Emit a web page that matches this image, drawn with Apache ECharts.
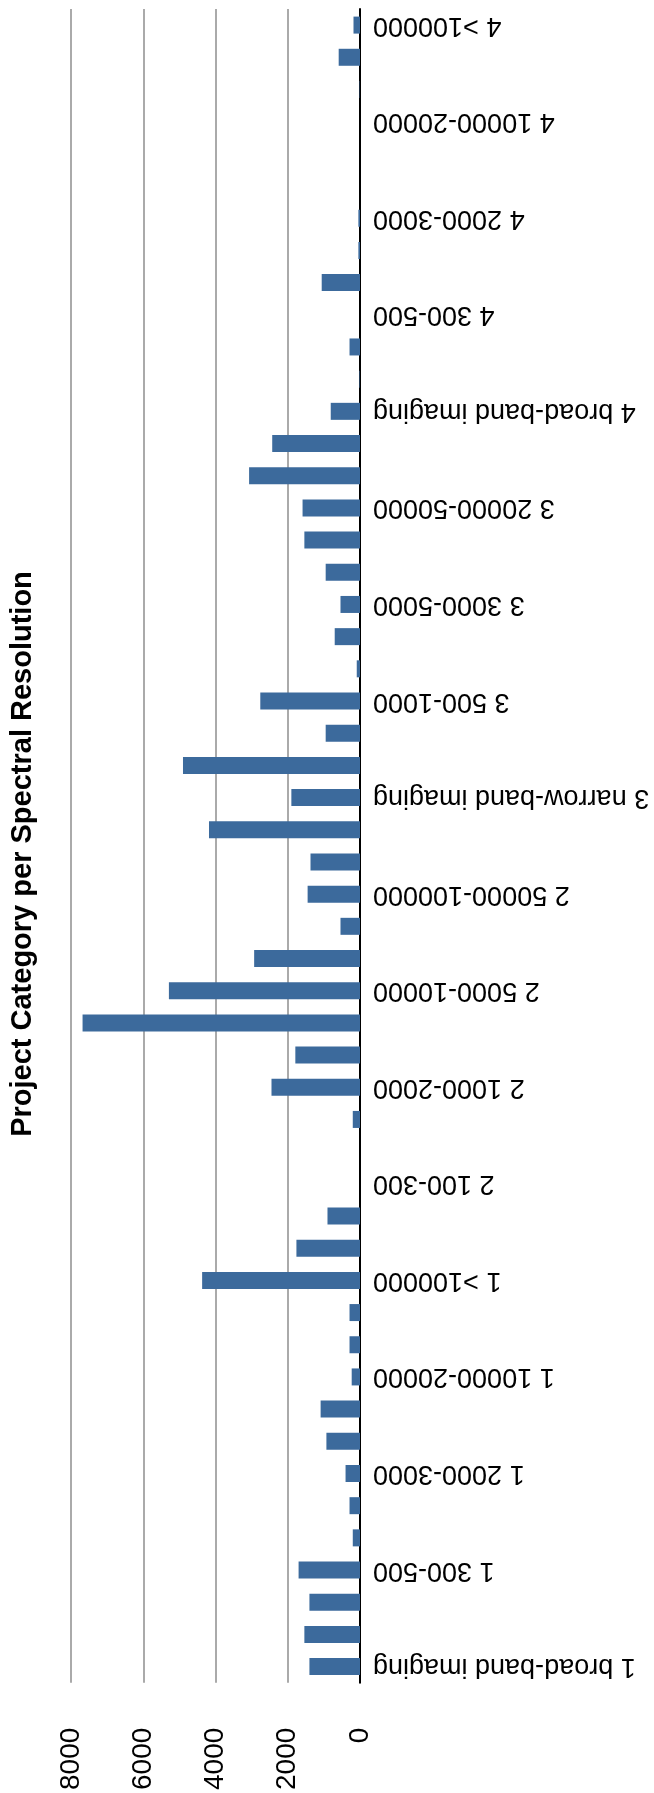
<!DOCTYPE html>
<html>
<head>
<meta charset="utf-8">
<script src="https://cdn.jsdelivr.net/npm/echarts@6/dist/echarts.min.js"></script>
<style>
html,body{margin:0;padding:0;background:#fff;}
#chart{width:654px;height:1793px;}
</style>
</head>
<body>
<div id="chart"></div>
<script>
// ---- data ----
const projectCategories = ['1', '2', '3', '4'];
const resolutions = ['broad-band imaging', 'narrow-band imaging', '100-300', '300-500', '500-1000',
  '1000-2000', '2000-3000', '3000-5000', '5000-10000', '10000-20000', '20000-50000',
  '50000-100000', '>100000'];
const category1Counts = [1400, 1540, 1400, 1700, 200, 290, 400, 930, 1090, 230, 290, 290, 4370];
const category2Counts = [1760, 900, 0, 0, 200, 2450, 1790, 7680, 5290, 2930, 540, 1450, 1370];
const category3Counts = [4180, 1900, 4900, 950, 2760, 90, 700, 540, 950, 1540, 1590, 3070, 2430];
const category4Counts = [810, 15, 290, 0, 1060, 45, 45, 0, 0, 0, 10, 590, 180];
const valueTicks = [0, 2000, 4000, 6000, 8000];
const chartTitle = 'Project Category per Spectral Resolution';

// build the axis categories ("n resolution") and the matching values, bottom to top
const categories = [];
const values = [];
const countLists = [category1Counts, category2Counts, category3Counts, category4Counts];
projectCategories.forEach((p, gi) => {
  resolutions.forEach((r, ri) => {
    categories.push(p + ' ' + r);
    values.push(countLists[gi][ri]);
  });
});

const font = '"Liberation Sans", Arial, Helvetica, sans-serif';
const chart = echarts.init(document.getElementById('chart'), null, {renderer: 'canvas'});
chart.setOption({
  animation: false,
  backgroundColor: '#ffffff',
  grid: {left: 71, right: 294, top: 9, bottom: 97, containLabel: false},
  xAxis: {
    type: 'value',
    inverse: true,
    position: 'bottom',
    min: valueTicks[0],
    max: valueTicks[valueTicks.length - 1],
    interval: valueTicks[1] - valueTicks[0],
    axisLine: {show: false},
    axisTick: {show: false},
    splitLine: {show: true, lineStyle: {color: '#aaaaaa', width: 2}},
    axisLabel: {
      rotate: 90,
      margin: 45,
      fontSize: 28,
      color: '#000',
      fontFamily: font,
      formatter: v => String(v)
    }
  },
  yAxis: {
    type: 'category',
    position: 'right',
    data: categories,
    axisLine: {show: true, lineStyle: {color: '#000', width: 2}},
    axisTick: {show: false},
    splitLine: {show: false},
    axisLabel: {
      interval: 2,
      rotate: 180,
      margin: 13,
      fontSize: 27,
      color: '#000',
      fontFamily: font
    }
  },
  series: [{
    type: 'bar',
    data: values,
    barWidth: 17,
    itemStyle: {color: '#3C6A9C'}
  }],
  graphic: [{
    type: 'text',
    x: 23,
    y: 854,
    rotation: Math.PI / 2,
    style: {
      text: chartTitle,
      font: 'bold 29px ' + font,
      fill: '#000',
      textAlign: 'center',
      textVerticalAlign: 'middle'
    }
  }]
});
</script>
</body>
</html>
